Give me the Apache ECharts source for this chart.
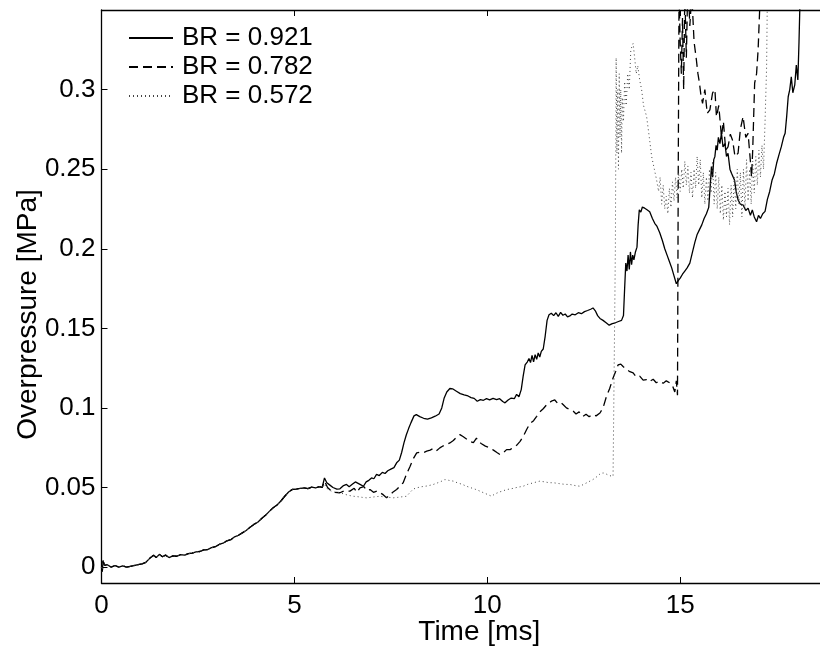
<!DOCTYPE html>
<html>
<head>
<meta charset="utf-8">
<script src="https://cdn.jsdelivr.net/npm/echarts@6/dist/echarts.min.js"></script>
<style>
html,body{margin:0;padding:0;background:#fff;}
#chart{width:820px;height:647px;}
</style>
</head>
<body>
<div id="chart"></div>
<script>
// ---- data ----
const seriesNames = ['BR = 0.921', 'BR = 0.782', 'BR = 0.572'];
const xTicks = [0, 5, 10, 15];
const yTicks = [0, 0.05, 0.1, 0.15, 0.2, 0.25, 0.3];

// common part of all three curves (time in ms, overpressure in MPa)
const commonT = [0.00,0.02,0.04,0.08,0.15,0.25,0.35,0.45,0.55,0.65,0.75,0.85,0.95,1.05,1.15,1.25,1.35,1.42,1.50,1.58,1.66,1.75,1.85,1.95,2.05,2.15,2.25,2.35,2.45,2.55,2.65,2.75,2.85,2.95,3.05,3.15,3.25,3.35,3.45,3.55,3.65,3.75,3.85,3.95,4.05,4.15,4.25,4.35,4.45,4.55,4.65,4.75,4.85,4.95,5.05,5.15,5.25,5.35,5.45,5.55,5.65,5.72];
const commonP = [0.000,-0.003,0.004,0.001,0.0015,0.000,0.001,0.000,0.0008,0.000,0.0005,0.001,0.0015,0.002,0.003,0.0055,0.0075,0.006,0.008,0.0065,0.0075,0.006,0.007,0.0068,0.0078,0.0075,0.0085,0.0088,0.0095,0.0098,0.0108,0.011,0.0122,0.0128,0.0142,0.015,0.0165,0.0172,0.019,0.020,0.0215,0.023,0.025,0.0268,0.0282,0.0305,0.0325,0.035,0.0373,0.039,0.0415,0.0445,0.0472,0.0488,0.049,0.0495,0.0497,0.0493,0.0502,0.0498,0.0505,0.050];

// BR = 0.921 (solid) after the common part
const solidT = [5.78,5.84,5.92,6.00,6.10,6.18,6.26,6.35,6.42,6.50,6.58,6.63,6.70,6.79,6.86,6.93,7.00,7.06,7.13,7.20,7.28,7.35,7.42,7.50,7.58,7.65,7.72,7.78,7.84,7.90,7.96,8.02,8.10,8.16,8.25,8.35,8.45,8.55,8.65,8.75,8.82,8.88,8.95,9.03,9.10,9.20,9.30,9.40,9.50,9.58,9.66,9.74,9.82,9.90,9.98,10.06,10.15,10.24,10.32,10.40,10.46,10.54,10.62,10.70,10.76,10.82,10.88,10.93,10.98,11.04,11.08,11.12,11.16,11.20,11.24,11.28,11.32,11.36,11.40,11.45,11.50,11.55,11.60,11.66,11.72,11.78,11.84,11.90,11.96,12.02,12.08,12.14,12.20,12.28,12.36,12.44,12.52,12.60,12.68,12.74,12.80,12.86,12.92,13.00,13.08,13.16,13.24,13.32,13.40,13.48,13.53,13.56,13.59,13.62,13.65,13.68,13.71,13.74,13.77,13.80,13.84,13.88,13.91,13.94,13.98,14.02,14.08,14.14,14.21,14.28,14.34,14.40,14.47,14.54,14.60,14.66,14.72,14.78,14.84,14.90,14.95,15.00,15.06,15.12,15.18,15.25,15.32,15.38,15.44,15.50,15.56,15.62,15.68,15.74,15.78,15.81,15.84,15.87,15.90,15.93,15.96,15.99,16.03,16.07,16.11,16.16,16.20,16.24,16.29,16.33,16.37,16.41,16.45,16.50,16.56,16.63,16.70,16.76,16.82,16.87,16.92,16.98,17.03,17.08,17.14,17.20,17.26,17.32,17.38,17.44,17.50,17.56,17.62,17.68,17.72,17.76,17.80,17.84,17.88,17.92,17.97,18.01,18.05,18.08,18.10,18.13];
const solidP = [0.056,0.053,0.0515,0.050,0.049,0.0492,0.051,0.0519,0.0505,0.052,0.0535,0.054,0.052,0.0508,0.0535,0.0545,0.056,0.0555,0.0582,0.0575,0.0595,0.0588,0.0605,0.0615,0.0625,0.0655,0.0672,0.072,0.078,0.083,0.087,0.0906,0.095,0.0958,0.0945,0.0935,0.093,0.0938,0.0948,0.0962,0.100,0.106,0.110,0.1122,0.112,0.1105,0.109,0.1082,0.1075,0.1065,0.106,0.1042,0.1052,0.1048,0.1058,0.105,0.106,0.1052,0.1058,0.104,0.1032,0.105,0.1062,0.1058,0.1085,0.107,0.1115,0.120,0.127,0.129,0.131,0.1285,0.133,0.129,0.1335,0.1305,0.1345,0.132,0.1355,0.137,0.145,0.155,0.1585,0.1595,0.158,0.1598,0.1575,0.160,0.1582,0.159,0.1572,0.1578,0.159,0.1585,0.1598,0.1592,0.1605,0.1612,0.162,0.1628,0.161,0.158,0.1562,0.155,0.1535,0.152,0.153,0.1535,0.1543,0.155,0.158,0.175,0.191,0.186,0.196,0.187,0.198,0.190,0.196,0.193,0.198,0.201,0.215,0.2244,0.223,0.2262,0.2255,0.2245,0.2233,0.219,0.216,0.214,0.210,0.205,0.200,0.196,0.192,0.188,0.183,0.178,0.180,0.1815,0.184,0.186,0.188,0.191,0.198,0.204,0.209,0.212,0.215,0.219,0.222,0.226,0.240,0.2516,0.245,0.256,0.258,0.265,0.262,0.270,0.266,0.2725,0.264,0.266,0.258,0.260,0.250,0.2474,0.248,0.243,0.236,0.2307,0.228,0.2275,0.224,0.2255,0.221,0.2244,0.220,0.217,0.221,0.219,0.222,0.2235,0.231,0.236,0.243,0.247,0.2537,0.259,0.264,0.270,0.2725,0.283,0.2955,0.300,0.308,0.298,0.303,0.3154,0.306,0.330,0.350,0.380];

// BR = 0.782 (dashed) after the common part
const dashT = [5.78,5.86,5.95,6.05,6.18,6.30,6.44,6.55,6.62,6.70,6.80,6.88,6.96,7.05,7.14,7.22,7.30,7.39,7.46,7.55,7.65,7.74,7.82,7.90,8.00,8.08,8.17,8.26,8.35,8.43,8.52,8.60,8.68,8.77,8.86,8.95,9.03,9.12,9.20,9.29,9.37,9.46,9.55,9.64,9.72,9.76,9.85,9.95,10.07,10.16,10.25,10.33,10.42,10.50,10.59,10.68,10.76,10.85,10.94,11.02,11.10,11.20,11.28,11.36,11.45,11.54,11.62,11.68,11.75,11.82,11.90,11.97,12.05,12.14,12.23,12.30,12.38,12.48,12.56,12.64,12.74,12.82,12.92,13.00,13.09,13.17,13.26,13.33,13.39,13.46,13.52,13.60,13.68,13.78,13.86,13.95,14.04,14.13,14.20,14.30,14.38,14.47,14.56,14.64,14.73,14.80,14.86,14.90,14.93,14.95,14.97,15.00,15.03,15.06,15.09,15.12,15.16,15.20,15.25,15.30,15.36,15.42,15.46,15.50,15.54,15.58,15.64,15.70,15.77,15.84,15.90,15.94,16.00,16.07,16.12,16.18,16.24,16.30,16.36,16.42,16.50,16.56,16.63,16.70,16.76,16.82,16.85,16.88,16.93,16.98,17.02,17.06,17.10];
const dashP = [0.054,0.050,0.048,0.047,0.0467,0.048,0.0477,0.0495,0.047,0.0498,0.0505,0.048,0.0487,0.047,0.0478,0.0467,0.0455,0.0435,0.045,0.047,0.0487,0.051,0.053,0.058,0.0634,0.068,0.0718,0.0722,0.072,0.0728,0.0735,0.0745,0.073,0.0749,0.0762,0.0772,0.078,0.0795,0.0815,0.0832,0.082,0.0805,0.079,0.0782,0.081,0.079,0.0775,0.076,0.0749,0.0735,0.072,0.0707,0.072,0.0738,0.0738,0.0752,0.0765,0.079,0.0825,0.0864,0.090,0.092,0.0947,0.0975,0.0995,0.102,0.1035,0.1045,0.105,0.103,0.1035,0.102,0.100,0.099,0.0979,0.0962,0.0975,0.0947,0.096,0.0945,0.0958,0.095,0.0968,0.100,0.1073,0.112,0.1188,0.123,0.127,0.1275,0.126,0.1245,0.123,0.122,0.1195,0.120,0.1175,0.1178,0.1165,0.118,0.1158,0.1167,0.1155,0.117,0.1157,0.114,0.110,0.117,0.108,0.250,0.360,0.330,0.310,0.345,0.300,0.360,0.320,0.370,0.340,0.360,0.330,0.3186,0.310,0.304,0.296,0.2914,0.300,0.285,0.2873,0.298,0.300,0.283,0.290,0.2704,0.280,0.262,0.264,0.272,0.268,0.258,0.260,0.275,0.283,0.270,0.2725,0.255,0.245,0.262,0.304,0.310,0.325,0.350,0.380];

// BR = 0.572 (dotted) after the common part
const dotT = [5.78,5.86,5.95,6.05,6.18,6.30,6.42,6.53,6.65,6.76,6.87,6.98,7.10,7.22,7.34,7.45,7.56,7.68,7.80,7.91,8.00,8.08,8.17,8.30,8.45,8.60,8.72,8.82,8.90,9.00,9.12,9.24,9.35,9.46,9.58,9.70,9.81,9.92,10.02,10.11,10.20,10.32,10.42,10.50,10.62,10.76,10.93,11.05,11.20,11.36,11.50,11.60,11.71,11.85,12.00,12.14,12.28,12.40,12.50,12.62,12.74,12.85,12.92,13.00,13.08,13.16,13.26,13.30,13.32,13.34,13.36,13.38,13.40,13.42,13.44,13.46,13.48,13.50,13.53,13.56,13.60,13.64,13.68,13.72,13.78,13.82,13.86,13.90,13.95,14.00,14.05,14.13,14.20,14.26,14.33,14.39,14.44,14.48,14.52,14.56,14.60,14.64,14.68,14.72,14.76,14.80,14.84,14.88,14.92,14.96,15.00,15.04,15.08,15.12,15.16,15.20,15.24,15.28,15.32,15.36,15.40,15.44,15.48,15.52,15.56,15.60,15.64,15.68,15.72,15.76,15.80,15.84,15.88,15.92,15.96,16.00,16.04,16.08,16.12,16.16,16.20,16.24,16.28,16.32,16.36,16.40,16.44,16.48,16.52,16.56,16.60,16.64,16.68,16.72,16.76,16.80,16.84,16.88,16.92,16.96,17.00,17.04,17.08,17.12,17.16,17.20,17.24,17.26];
const dotP = [0.052,0.049,0.0478,0.047,0.0467,0.0458,0.045,0.0445,0.0442,0.0438,0.0435,0.0438,0.0442,0.0445,0.044,0.0438,0.0435,0.0438,0.0442,0.0445,0.047,0.049,0.0498,0.0505,0.051,0.0519,0.053,0.054,0.055,0.0545,0.054,0.0528,0.052,0.0508,0.0498,0.0488,0.0477,0.0465,0.0455,0.0445,0.046,0.0472,0.048,0.0487,0.0492,0.050,0.0508,0.052,0.053,0.054,0.0535,0.053,0.053,0.0525,0.052,0.0519,0.0512,0.0508,0.052,0.0535,0.055,0.057,0.0585,0.0592,0.0585,0.0575,0.057,0.056,0.200,0.320,0.260,0.300,0.250,0.310,0.270,0.300,0.260,0.295,0.280,0.305,0.290,0.310,0.300,0.325,0.329,0.320,0.310,0.315,0.306,0.300,0.290,0.283,0.270,0.258,0.250,0.243,0.236,0.245,0.228,0.240,0.225,0.233,0.222,0.238,0.226,0.242,0.230,0.245,0.232,0.248,0.236,0.250,0.238,0.255,0.240,0.252,0.235,0.248,0.232,0.250,0.238,0.258,0.240,0.256,0.232,0.248,0.228,0.245,0.230,0.250,0.235,0.255,0.228,0.248,0.225,0.245,0.222,0.240,0.218,0.236,0.220,0.238,0.215,0.240,0.220,0.245,0.225,0.250,0.228,0.248,0.220,0.250,0.225,0.256,0.230,0.250,0.228,0.255,0.235,0.258,0.240,0.262,0.245,0.265,0.250,0.280,0.314,0.360];

// ---- build series data ----
function zip(ts, ps) { return ts.map((t, i) => [t, ps[i]]); }
const solidData = zip(commonT.concat(solidT), commonP.concat(solidP));
const dashData = zip(commonT.concat(dashT), commonP.concat(dashP));
const dotData = zip(commonT.concat(dotT), commonP.concat(dotP));

const FONT = 'Liberation Sans, Arial, Helvetica, sans-serif';
const FS = 26;
const NFS = 28;
const chart = echarts.init(document.getElementById('chart'), null, {renderer: 'canvas'});

const axisLineStyle = {color: '#000', width: 1.3};
chart.setOption({
  animation: false,
  backgroundColor: '#fff',
  grid: {left: 101.5, right: -1, top: 10, bottom: 64, containLabel: false, outerBoundsMode: 'none'},
  legend: {
    show: true,
    orient: 'vertical',
    left: 123,
    top: 20,
    itemWidth: 44,
    itemHeight: 14,
    itemGap: 3,
    data: seriesNames,
    itemStyle: {opacity: 0},
    textStyle: {fontFamily: FONT, fontSize: FS, color: '#000', lineHeight: 26, padding: [0, 0, 0, 4]},
    selectedMode: false
  },
  xAxis: [{
    type: 'value', min: 0, max: 18.65, interval: 5,
    position: 'bottom',
    name: 'Time [ms]', nameLocation: 'middle', nameGap: 35, nameMoveOverlap: false,
    nameTextStyle: {fontFamily: FONT, fontSize: NFS, color: '#000', padding: [0, 0, 0, 36]},
    axisLine: {show: true, onZero: false, lineStyle: axisLineStyle},
    axisTick: {show: true, inside: true, length: 6, lineStyle: {color: '#000', width: 1}, customValues: xTicks},
    axisLabel: {show: true, customValues: xTicks, fontFamily: FONT, fontSize: FS, color: '#000', margin: 10, formatter: v => String(v)},
    splitLine: {show: false}
  }, {
    type: 'value', min: 0, max: 18.65, interval: 5,
    position: 'top',
    axisLine: {show: true, onZero: false, lineStyle: axisLineStyle},
    axisTick: {show: true, inside: true, length: 6, lineStyle: {color: '#000', width: 1}, customValues: xTicks},
    axisLabel: {show: false},
    splitLine: {show: false}
  }],
  yAxis: [{
    type: 'value', min: -0.01, max: 0.35,
    position: 'left',
    name: 'Overpressure [MPa]', nameLocation: 'middle', nameGap: 59, nameMoveOverlap: false,
    nameTextStyle: {fontFamily: FONT, fontSize: NFS, color: '#000', padding: [0, 36, 0, 0]},
    axisLine: {show: true, onZero: false, lineStyle: axisLineStyle},
    axisTick: {show: true, inside: true, length: 6, lineStyle: {color: '#000', width: 1}, customValues: yTicks},
    axisLabel: {show: true, customValues: yTicks, fontFamily: FONT, fontSize: FS, color: '#000', margin: 6, formatter: v => String(v)},
    splitLine: {show: false}
  }],
  series: [{
    name: seriesNames[0], type: 'line', data: solidData, xAxisIndex: 0, yAxisIndex: 0,
    showSymbol: false, symbol: 'none', clip: true,
    lineStyle: {color: '#000', width: 1.3, type: 'solid'},
    itemStyle: {color: '#000'}
  }, {
    name: seriesNames[1], type: 'line', data: dashData, xAxisIndex: 0, yAxisIndex: 0,
    showSymbol: false, symbol: 'none', clip: true,
    lineStyle: {color: '#000', width: 1.3, type: [9, 5]},
    itemStyle: {color: '#000'}
  }, {
    name: seriesNames[2], type: 'line', data: dotData, xAxisIndex: 0, yAxisIndex: 0,
    showSymbol: false, symbol: 'none', clip: true,
    lineStyle: {color: '#444', width: 1, type: [1, 3]},
    itemStyle: {color: '#444'}
  }]
});
</script>
</body>
</html>
